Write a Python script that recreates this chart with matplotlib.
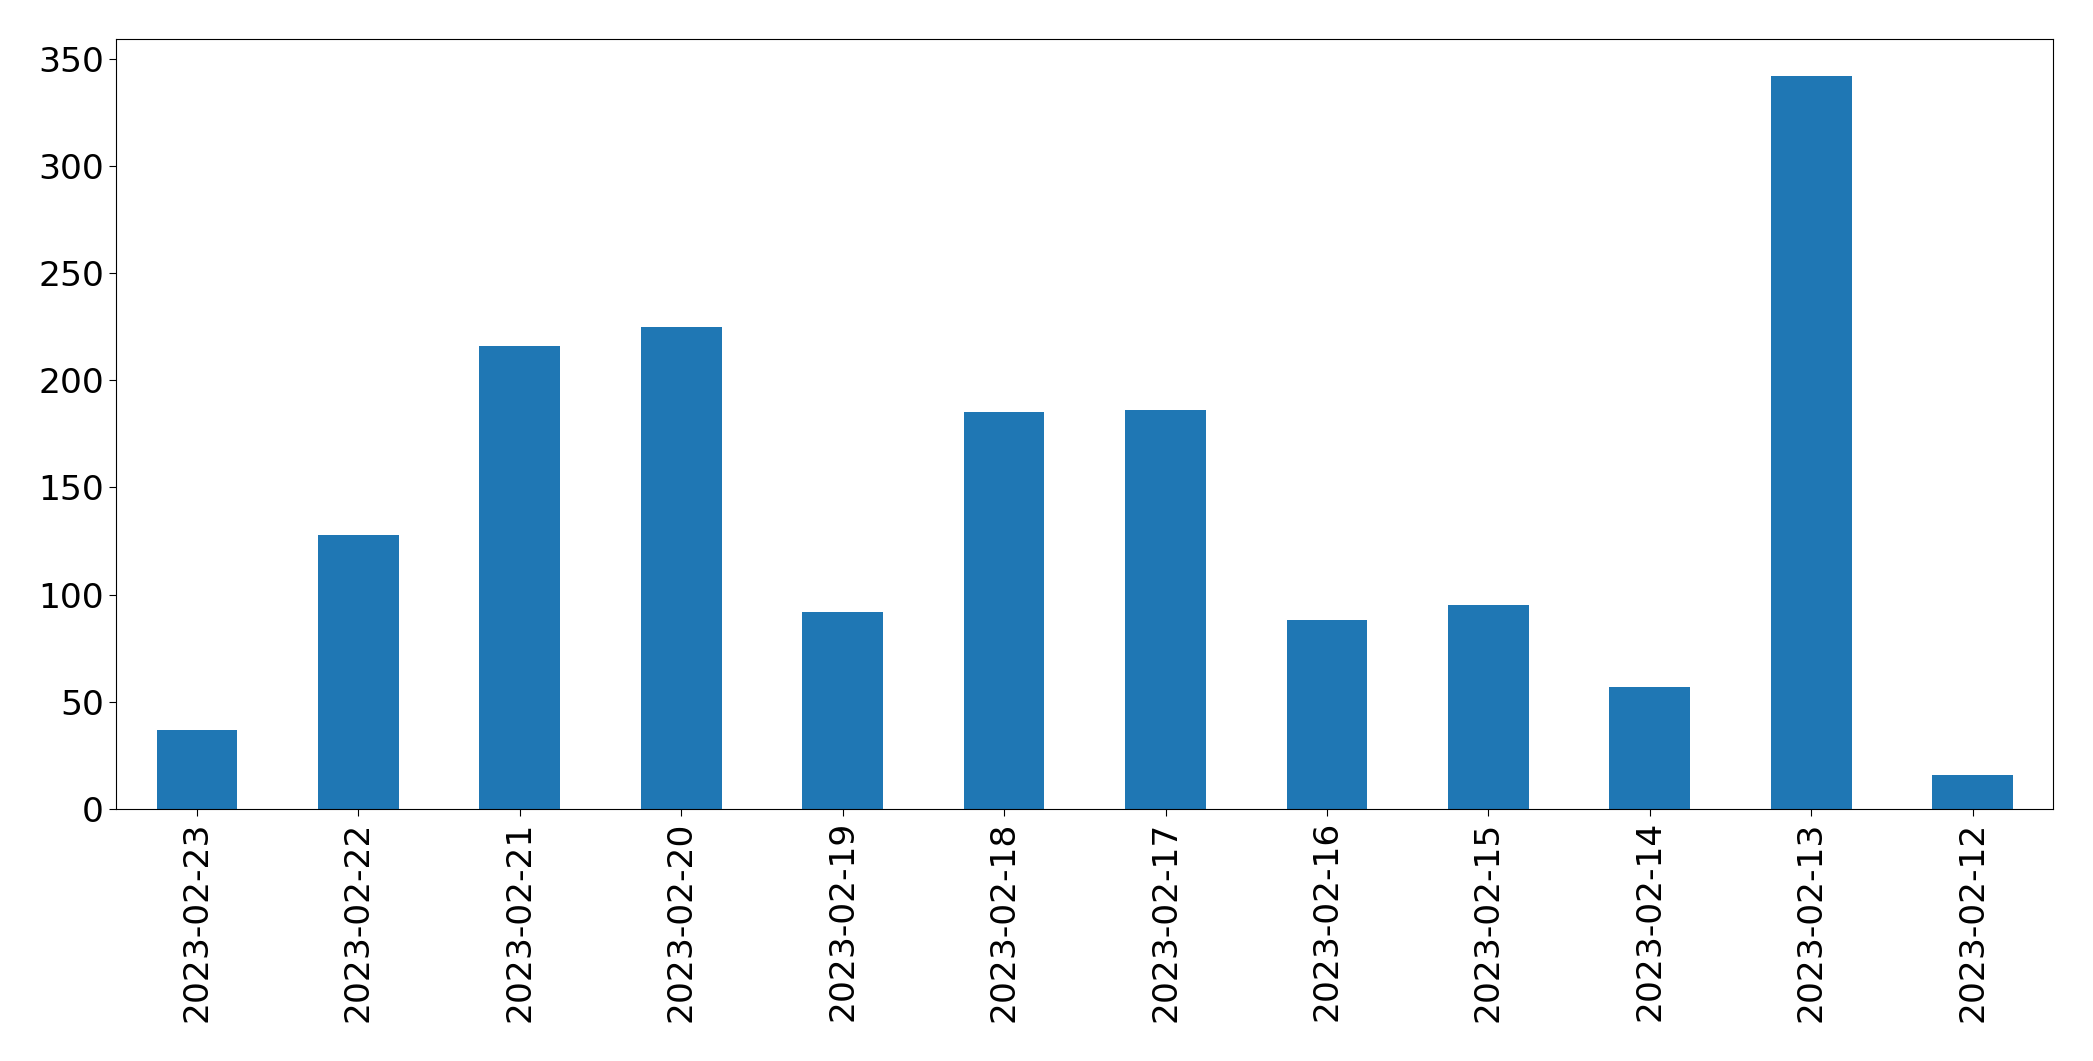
import matplotlib
matplotlib.use("Agg")
import matplotlib.pyplot as plt
import numpy as np

dates = ["2023-02-23", "2023-02-22", "2023-02-21", "2023-02-20", "2023-02-19", "2023-02-18",
         "2023-02-17", "2023-02-16", "2023-02-15", "2023-02-14", "2023-02-13", "2023-02-12"]
counts = [37, 128, 216, 225, 92, 185, 186, 88, 95, 57, 342, 16]

fig = plt.figure(figsize=(20.93, 10.61), dpi=100)
ax = fig.add_axes([116.3 / 2093, 1 - 809 / 1061, (2053.3 - 116.3) / 2093, (809 - 39.3) / 1061])
x = np.arange(len(dates))
ax.bar(x, counts, width=0.5, color="#1f77b4")
ax.set_xlim(-0.5, len(dates) - 0.5)
ax.set_ylim(0, max(counts) * 1.05)
ax.set_xticks(x)
ax.set_xticklabels(dates, rotation=90)
ax.set_yticks(np.arange(0, 351, 50))
ax.tick_params(axis="both", labelsize=24.8, length=5.3)
for s in ax.spines.values():
    s.set_color("black")
fig.savefig("out.png", dpi=100)
